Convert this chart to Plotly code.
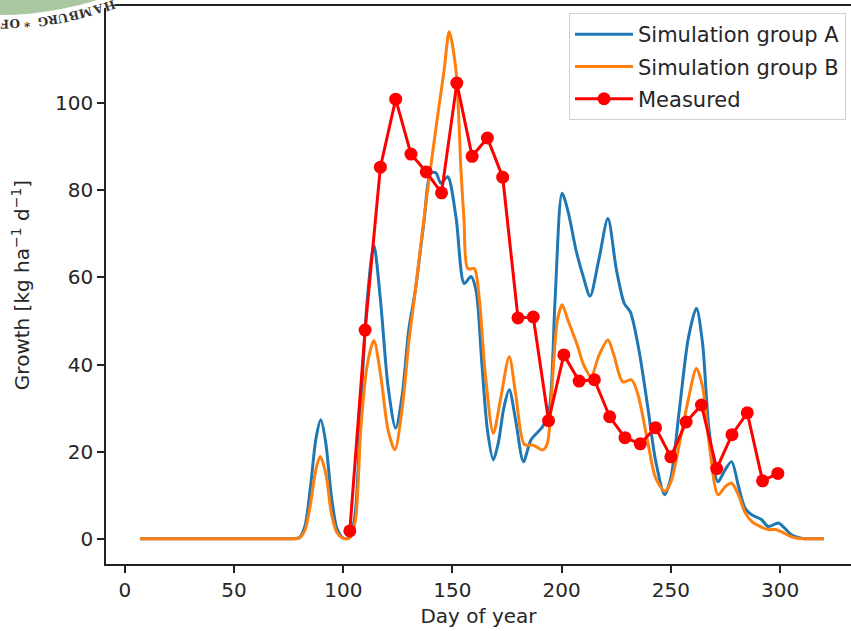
import math
import plotly.graph_objects as go

# ---------------- data ----------------
days_a = [7, 30, 55, 70, 77, 80, 82.5, 85, 87.5, 89.7, 92, 94.5, 97, 99.5, 101.5, 103, 105.5, 108,
          111, 114, 117, 120.5, 124, 127, 130, 133, 137, 140, 142.4, 144.7, 147.8, 151.6, 155.4,
          158.5, 160.8, 163.5, 166, 168.7, 171, 173.5, 176, 179, 182.5, 186, 191.4, 194.3, 197,
          200.2, 203, 206.7, 210, 213, 217, 221.2, 225, 228.7, 231.5, 235.5, 239.5, 243, 247.2,
          250, 254, 258, 261.7, 264.5, 267.5, 271.6, 274.5, 277.8, 281, 284, 287, 291.5, 294.6,
          299.2, 302, 305, 308.3, 311, 314, 320]
growth_a = [0, 0, 0, 0, 0, 0.3, 3, 12, 23, 27.3, 22, 10, 2.5, 0.3, 0, 0.3, 6, 30,
            55, 67.4, 55, 35, 25.4, 33, 48, 57, 73, 84, 84, 81.6, 83.1, 73.9, 58.6,
            60.2, 57, 40, 25, 18.1, 22, 30, 34.2, 27, 17.7, 22.7, 25.8, 29.6, 55,
            79.3, 75, 66, 60, 55.7, 64, 73.5, 62, 54, 52, 43, 30, 18, 10.1,
            14, 30, 46, 52.9, 45, 25, 13.1, 15.5, 17.7, 12, 7, 5.5, 4.4, 2.8,
            3.6, 2.5, 1, 0.3, 0, 0, 0]

days_b = [7, 30, 55, 70, 77, 80, 82.5, 85, 87.5, 89.4, 92, 94.5, 97, 99.5, 101.5, 103, 105.5, 108,
          111, 114, 117, 120.5, 123.6, 127, 130, 132.5, 137.1, 139.4, 143.2, 146.2, 148.5, 151.6,
          153.9, 155.3, 157, 160, 162.3, 165, 168.7, 172, 176, 179, 183, 187, 191.4, 193.5, 196,
          198, 200.2, 203, 207.4, 210, 213.5, 217, 221.2, 224, 228, 232, 235, 239.5, 243, 247.2,
          250, 254, 258, 261.7, 264.5, 267.5, 271.6, 275, 277.8, 281, 284, 287, 291, 294.6, 298,
          301, 305, 308, 311, 314, 320]
growth_b = [0, 0, 0, 0, 0, 0.2, 2, 8, 16, 18.9, 15, 6, 1.5, 0.2, 0, 0.3, 4, 25,
            40, 45.5, 38, 25, 20.4, 30, 45, 55, 74, 83, 97, 107.6, 116.4, 107.6,
            84.6, 73, 62, 62, 55, 38, 24.2, 32, 41.8, 33, 21.6, 21.5, 20.4, 22, 38,
            50, 53.7, 50, 44.1, 40, 37.2, 42, 45.6, 42, 36, 36.5, 33, 22, 14, 10.9,
            13, 22, 32, 39.1, 35, 22, 10.1, 12, 12.8, 10, 6, 4, 2.8, 2.1, 2.1,
            1.5, 0.5, 0.1, 0, 0, 0]

days_measured = [103, 110, 117, 124, 131, 138, 145, 152, 159, 166, 173, 180, 187, 194, 201,
                 208, 215, 222, 229, 236, 243, 250, 257, 264, 271, 278, 285, 292, 299]
growth_measured = [1.8, 47.9, 85.3, 100.9, 88.3, 84.2, 79.4, 104.6, 87.8, 92.0, 83.0, 50.7,
                   50.9, 27.1, 42.2, 36.2, 36.5, 28.0, 23.2, 21.8, 25.5, 18.8, 26.8, 30.7,
                   16.1, 23.9, 28.9, 13.3, 15.0]

series_names = ["Simulation group A", "Simulation group B", "Measured"]
x_ticks = [0, 50, 100, 150, 200, 250, 300]
y_ticks = [0, 20, 40, 60, 80, 100]
x_title = "Day of year"
y_title = "Growth [kg ha<sup>\u22121</sup> d<sup>\u22121</sup>]"
logo_letters = ["F", "O", "*", "G", "R", "U", "B", "M", "A", "H"]

# ---------------- layout geometry ----------------
W, H = 851, 631
L, R, T, B = 106, 0, 6, 67
PW, PH = W - L - R, H - T - B
FONT = "DejaVu Sans"
TXT = "#262626"


def px(xp):
    return (xp - L) / PW


def py(yp):
    return (H - B - yp) / PH


fig = go.Figure()
fig.add_trace(go.Scatter(
    x=days_a, y=growth_a, mode="lines", name=series_names[0], legendgroup="a",
    line=dict(color="#1f77b4", width=3, shape="spline", smoothing=0.8)))
fig.add_trace(go.Scatter(
    x=days_b, y=growth_b, mode="lines", name=series_names[1], legendgroup="b",
    line=dict(color="#ff7f0e", width=3, shape="spline", smoothing=0.8)))
fig.add_trace(go.Scatter(
    x=days_measured, y=growth_measured, mode="lines+markers", name=series_names[2],
    legendgroup="c", line=dict(color="#ff0000", width=3),
    marker=dict(color="#ff0000", size=13)))

# logo in the top-left corner (partially outside the figure)
cx, cy = 0, -306
shapes = []
for r, fill in [(331, "white"), (321, "#a9c7a1")]:
    shapes.append(dict(type="circle", xref="paper", yref="paper", layer="above",
                       xsizemode="pixel", ysizemode="pixel",
                       xanchor=px(cx), yanchor=py(cy),
                       x0=-r, x1=r, y0=-r, y1=r,
                       fillcolor=fill, line=dict(width=0)))

letter_x = [5, 15, 27, 43, 53, 63, 74, 86, 99, 110]
annotations = []
rr = 330
for ch, lx in zip(logo_letters, letter_x):
    phi = math.degrees(math.asin((lx - cx) / rr))
    ly = cy + math.sqrt(rr ** 2 - (lx - cx) ** 2)
    annotations.append(dict(text="<b>%s</b>" % ch, x=px(lx), y=py(ly), xref="paper",
                            yref="paper", showarrow=False, textangle=180 - phi,
                            font=dict(family="DejaVu Serif", size=12, color="#333333"),
                            xanchor="center", yanchor="middle"))

fig.update_layout(
    width=W, height=H,
    margin=dict(l=L, r=R, t=T, b=B, autoexpand=False),
    paper_bgcolor="white", plot_bgcolor="white",
    font=dict(family=FONT, size=20, color=TXT),
    shapes=shapes, annotations=annotations,
    showlegend=True,
    legend=dict(x=px(846), y=py(13), xanchor="right", yanchor="top",
                bgcolor="rgba(255,255,255,0.85)", bordercolor="#d0d0d0", borderwidth=1,
                font=dict(family=FONT, size=21, color=TXT), tracegroupgap=2,
                traceorder="grouped", itemwidth=58),
)
fig.update_xaxes(
    range=[-8.65, 332.5], tickvals=x_ticks, ticks="outside", ticklen=7, tickwidth=1.5,
    tickcolor="#222", showline=True, linecolor="#222", linewidth=1.5, mirror=True,
    showgrid=False, zeroline=False, tickfont=dict(size=20, color=TXT),
    title=dict(text=x_title, font=dict(size=20, color=TXT), standoff=8))
fig.update_yaxes(
    range=[-5.8, 122.3], tickvals=y_ticks, ticks="outside", ticklen=7, tickwidth=1.5,
    tickcolor="#222", showline=True, linecolor="#222", linewidth=1.5, mirror=False,
    showgrid=False, zeroline=False, tickfont=dict(size=20, color=TXT),
    title=dict(text=y_title, font=dict(size=20, color=TXT), standoff=20))

fig.write_html("out.html", config={"displayModeBar": False},
               post_script="document.body.style.margin='0';document.body.style.padding='0';")
